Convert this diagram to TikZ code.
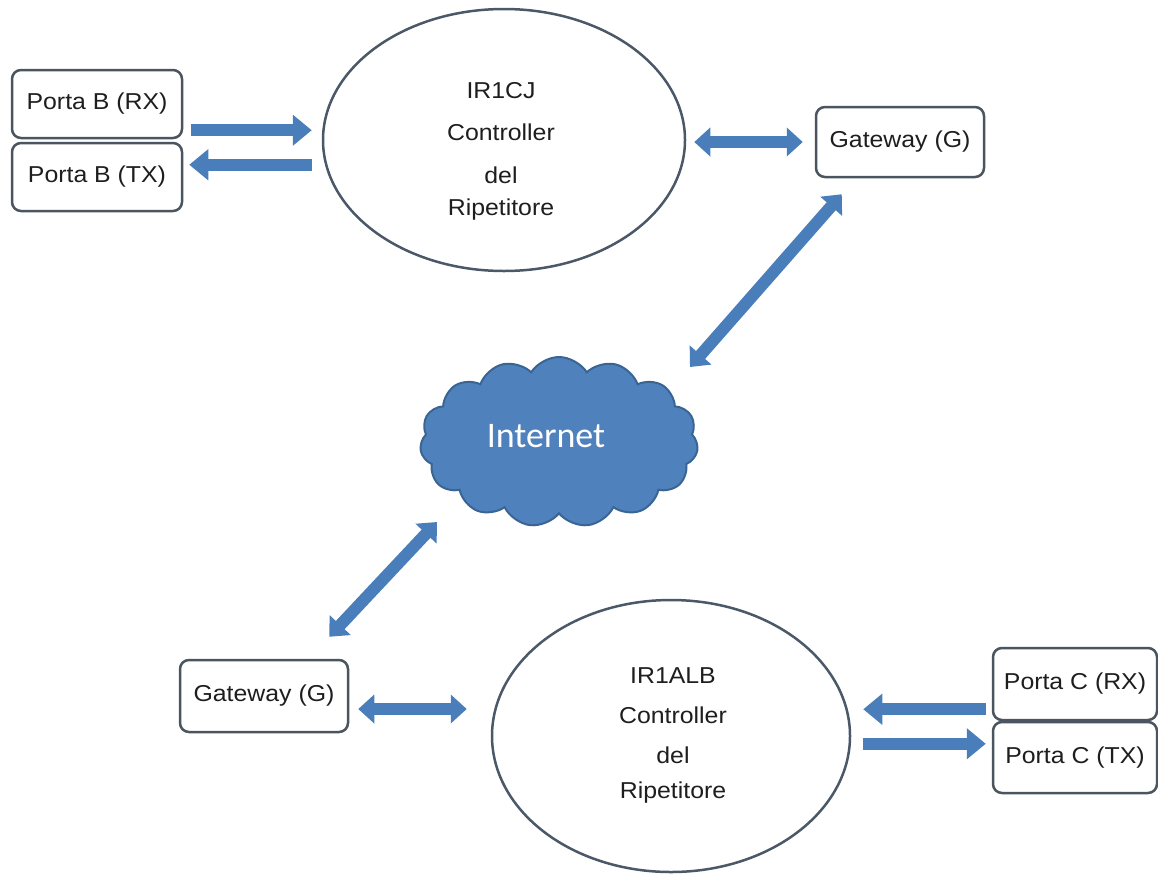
\documentclass[tikz,border=0pt]{standalone}
\usepackage{fontspec}
\usetikzlibrary{shapes.geometric,shapes.symbols,arrows.meta,calc}
\newfontfamily\lblfont{Liberation Sans}[FakeStretch=1.08]
\newfontfamily\cloudfont{Carlito}
\definecolor{arrowblue}{HTML}{4A7EBB}
\definecolor{cloudblue}{HTML}{4F81BD}
\definecolor{cloudedge}{HTML}{3A6593}
\definecolor{boxedge}{HTML}{4B5560}
\definecolor{ovaledge}{HTML}{4A5868}
\definecolor{inkgray}{HTML}{1E1E1E}

\begin{document}
\begin{tikzpicture}[x=1pt,y=-1pt,
  portbox/.style={draw=boxedge, line width=2.5pt, rounded corners=9pt, fill=white,
    inner sep=0pt, minimum width=#1, text=inkgray, font=\lblfont\fontsize{23}{28}\selectfont},
  portbox/.default=170pt,
  oval/.style={draw=ovaledge, line width=2.5pt, ellipse, inner sep=0pt},
  ovaltext/.style={align=center, inner sep=0pt, text=inkgray,
    font=\lblfont\fontsize{23}{42}\selectfont},
  onearrow/.style={draw=arrowblue, line width=12pt,
    -{Triangle[width=30pt,length=19pt]}},
  twoarrow/.style={draw=arrowblue, line width=12pt,
    {Triangle[width=28pt,length=16pt]}-{Triangle[width=28pt,length=16pt]}}
]
\useasboundingbox[fill=white] (0,0) rectangle (1158,876);

% ---- upper repeater ----
\node[portbox, minimum height=68pt] (rxB) at (97,104) {Porta B (RX)};
\node[portbox, minimum height=68pt] (txB) at (97,177) {Porta B (TX)};
\node[oval, minimum width=362pt, minimum height=262pt] (ell1) at (504,140) {};
\node[ovaltext, anchor=north] (ell1txt) at (501,82)
  {IR1CJ\\Controller\\[1pt]del\\[-10pt]Ripetitore};
\node[portbox=168pt, minimum height=70pt] (gw1) at (900,142) {Gateway (G)};

% ---- cloud ----
\node[cloud, cloud puffs=15, cloud puff arc=115, aspect=1.6,
      minimum width=278pt, minimum height=170pt, inner sep=0pt,
      fill=cloudblue, draw=cloudedge, line width=2pt,
      label={[text=white, font=\cloudfont\fontsize{36}{40}\selectfont,
              xshift=-13pt, yshift=6pt]center:Internet}] (cloud) at (559,442) {};

% ---- lower repeater ----
\node[portbox=168pt, minimum height=72pt] (gw2) at (264,696) {Gateway (G)};
\node[oval, minimum width=358pt, minimum height=272pt] (ell2) at (671,736) {};
\node[ovaltext, anchor=north] (ell2txt) at (673,667)
  {IR1ALB\\[-2pt]Controller\\[-2pt]del\\[-7pt]Ripetitore};
\node[portbox=164pt, minimum height=72pt] (rxC) at (1075,684) {Porta C (RX)};
\node[portbox=164pt, minimum height=71pt] (txC) at (1075,757.5) {Porta C (TX)};

% ---- connectors ----
\draw[onearrow] ($(rxB.south east)+(8,-9)$) -- ($(ell1.west |- {$(rxB.south east)+(8,-9)$})+(-10,0)$);
\draw[onearrow] ($(ell1.west |- {$(txB.north east)+(6,23)$})+(-10,0)$) -- ($(txB.north east)+(6,23)$);
\draw[twoarrow] ($(ell1.east |- gw1.west)+(8,0)$) -- ($(gw1.west)+(-12,0)$);
\draw[twoarrow] ($(gw1.south west)+(27,16)$) -- ($(cloud.center)+(131,-75)$);
\draw[twoarrow] ($(cloud.center)+(-122,80)$) -- ($(gw2.north east)+(-20,-22)$);
\draw[twoarrow] ($(gw2.east)+(9,13)$) -- ($(ell2.west |- {$(gw2.east)+(9,13)$})+(-24,0)$);
\draw[onearrow] ($(rxC.south west)+(-6,-12)$) -- ($(ell2.east |- {$(rxC.south west)+(-6,-12)$})+(12,0)$);
\draw[onearrow] ($(ell2.east |- {$(txC.north west)+(-6,23)$})+(12,0)$) -- ($(txC.north west)+(-6,23)$);
\end{tikzpicture}
\end{document}
